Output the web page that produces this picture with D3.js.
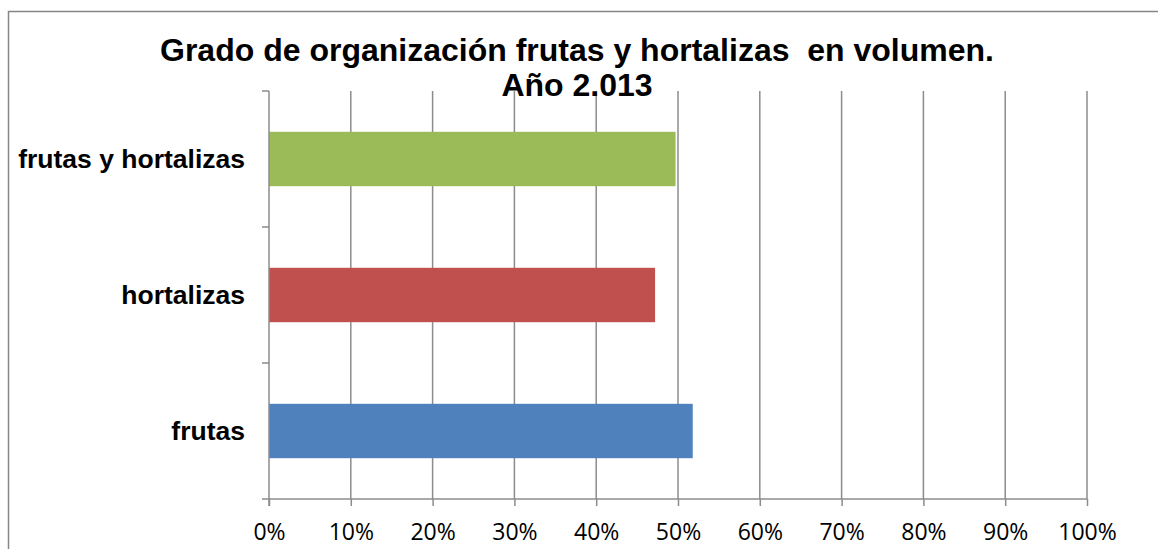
<!DOCTYPE html>
<html>
  <head>
    <meta charset="utf-8">
    <script src="https://d3js.org/d3.v7.min.js"></script>
    <style>
      body { margin: 0; background: #fff; }
    </style>
  </head>
  <body>
  </body>
</html>

<script>
  var width = 1158
  var height = 549

  // data
  var categories = ["frutas y hortalizas", "hortalizas", "frutas"]
  var values = [0.497, 0.472, 0.518]
  var colors = ["#9bbb59", "#c0504d", "#4f81bd"]
  var ticks = [0, 0.1, 0.2, 0.3, 0.4, 0.5, 0.6, 0.7, 0.8, 0.9, 1]
  var titleLines = ["Grado de organización frutas y hortalizas  en volumen.", "Año 2.013"]

  var plotLeft = 269, plotRight = 1087, plotTop = 91, plotBottom = 499

  var svg = d3.select("body")
              .append("svg")
              .attr("width", width)
              .attr("height", height)

  // chart border
  svg.append("rect")
     .attr("x", 8.5)
     .attr("y", 11.5)
     .attr("width", 1200)
     .attr("height", 600)
     .attr("fill", "none")
     .attr("stroke", "#868686")
     .attr("stroke-width", 1.5)

  var x = d3.scaleLinear()
            .domain([0, 1])
            .range([plotLeft, plotRight])

  var y = d3.scaleBand()
            .domain(categories)
            .range([plotTop, plotBottom])
            .paddingInner(0.6)
            .paddingOuter(0.3)

  // vertical gridlines
  svg.selectAll(".grid")
     .data(ticks.slice(1))
     .enter()
     .append("line")
     .attr("x1", function(d) { return x(d) })
     .attr("x2", function(d) { return x(d) })
     .attr("y1", plotTop)
     .attr("y2", plotBottom)
     .attr("stroke", "#8c8c8c")
     .attr("stroke-width", 1.5)

  // bars
  svg.selectAll(".bar")
     .data(categories)
     .enter()
     .append("rect")
     .attr("x", x(0))
     .attr("y", function(d) { return y(d) })
     .attr("width", function(d, i) { return x(values[i]) - x(0) })
     .attr("height", y.bandwidth())
     .attr("fill", function(d, i) { return colors[i] })

  // x axis
  var xAxis = svg.append("g")
     .attr("transform", "translate(0," + plotBottom + ")")
     .call(d3.axisBottom(x).tickValues(ticks).tickFormat(d3.format(".0%")).tickSize(7).tickPadding(18))
  xAxis.selectAll("line, path").attr("stroke", "#8c8c8c").attr("stroke-width", 1.5)
  xAxis.select(".domain").attr("d", "M" + plotLeft + ",0H" + plotRight)
  xAxis.selectAll("text")
       .attr("fill", "#000")
       .style("font-family", "'Open Sans', 'Liberation Sans', sans-serif")
       .style("font-size", "23px")

  // y axis with boundary ticks
  var bounds = y.domain().map(function(d) { return y(d) - y.step() * y.paddingInner() / 2 }).concat([plotBottom])
  svg.append("line")
     .attr("x1", plotLeft).attr("x2", plotLeft)
     .attr("y1", plotTop).attr("y2", plotBottom + 7)
     .attr("stroke", "#8c8c8c").attr("stroke-width", 1.5)
  svg.selectAll(".ytick")
     .data(bounds)
     .enter()
     .append("line")
     .attr("x1", plotLeft - 7).attr("x2", plotLeft)
     .attr("y1", function(d) { return d }).attr("y2", function(d) { return d })
     .attr("stroke", "#8c8c8c").attr("stroke-width", 1.5)

  svg.selectAll(".ylabel")
     .data(categories)
     .enter()
     .append("text")
     .attr("x", 245)
     .attr("y", function(d) { return y(d) + y.bandwidth() / 2 })
     .attr("dy", "0.35em")
     .attr("text-anchor", "end")
     .style("font-family", "'Liberation Sans', Arial, sans-serif")
     .style("font-weight", "bold")
     .style("font-size", "26.5px")
     .text(function(d) { return d })

  // title
  svg.selectAll(".title")
     .data(titleLines)
     .enter()
     .append("text")
     .attr("x", 577)
     .attr("y", function(d, i) { return 61 + i * 35 })
     .attr("text-anchor", "middle")
     .style("font-family", "'Liberation Sans', Arial, sans-serif")
     .style("font-weight", "bold")
     .style("font-size", "32px")
     .style("white-space", "pre")
     .text(function(d) { return d })
</script>
